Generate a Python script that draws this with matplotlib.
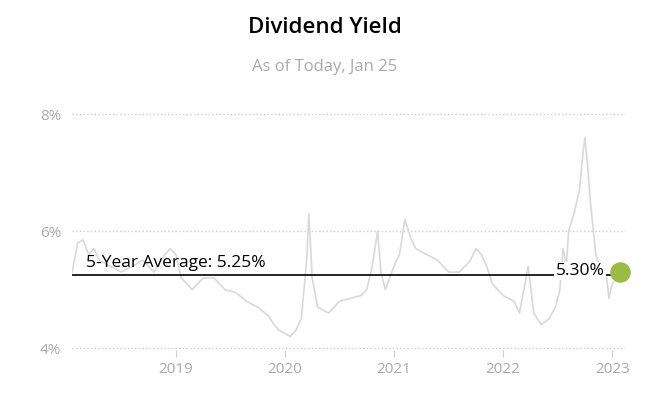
import matplotlib.pyplot as plt

dates = [2018.05, 2018.1, 2018.15, 2018.2, 2018.25, 2018.3, 2018.4, 2018.5, 2018.6, 2018.7,
         2018.8, 2018.9, 2018.95, 2019.0, 2019.05, 2019.15, 2019.25, 2019.35, 2019.45, 2019.55,
         2019.65, 2019.75, 2019.85, 2019.9, 2019.95, 2020.0, 2020.05, 2020.1, 2020.15, 2020.2,
         2020.22, 2020.25, 2020.3, 2020.4, 2020.5, 2020.6, 2020.7, 2020.75, 2020.8, 2020.85,
         2020.88, 2020.92, 2021.0, 2021.05, 2021.1, 2021.15, 2021.2, 2021.3, 2021.4, 2021.5,
         2021.6, 2021.7, 2021.75, 2021.8, 2021.85, 2021.9, 2022.0, 2022.1, 2022.15, 2022.2,
         2022.23, 2022.28, 2022.35, 2022.42, 2022.48, 2022.52, 2022.55, 2022.58, 2022.6, 2022.65,
         2022.7, 2022.73, 2022.75, 2022.78, 2022.8, 2022.85, 2022.9, 2022.95, 2022.97, 2023.0,
         2023.05, 2023.07]
yields = [5.3, 5.8, 5.85, 5.6, 5.7, 5.5, 5.4, 5.3, 5.4, 5.5,
          5.3, 5.6, 5.7, 5.6, 5.2, 5.0, 5.2, 5.2, 5.0, 4.95,
          4.8, 4.7, 4.55, 4.4, 4.3, 4.25, 4.2, 4.3, 4.5, 5.5,
          6.3, 5.2, 4.7, 4.6, 4.8, 4.85, 4.9, 5.0, 5.4, 6.0,
          5.3, 5.0, 5.4, 5.6, 6.2, 5.9, 5.7, 5.6, 5.5, 5.3,
          5.3, 5.5, 5.7, 5.6, 5.4, 5.1, 4.9, 4.8, 4.6, 5.1,
          5.4, 4.6, 4.4, 4.5, 4.7, 5.0, 5.7, 5.4, 6.0, 6.3,
          6.7, 7.3, 7.6, 7.0, 6.5, 5.6, 5.3, 5.2, 4.85, 5.1,
          5.2, 5.3]
avg = 5.25
current = 5.30
years = [2019, 2020, 2021, 2022, 2023]
yticks = [4, 6, 8]

fig = plt.figure(figsize=(6.5, 4.2), dpi=100)
plt.rcParams['font.family'] = ['Open Sans', 'DejaVu Sans']
ax = fig.add_axes([0.111, 0.167, 0.851, 0.571])

ax.plot(dates, yields, color='#d9d9d9', lw=1.2)
ax.plot([dates[0], dates[-1]], [avg, avg], color='black', lw=1.2)
ax.scatter([dates[-1]], [current], s=190, color='#9bbb45', zorder=5, clip_on=False)
ax.text(2018.18, avg + 0.07, '5-Year Average: 5.25%', fontsize=12.5, va='bottom',
        fontweight='medium')
ax.text(dates[-1] - 0.14, current + 0.02, '5.30%', fontsize=12.5, ha='right', va='center',
        fontweight='medium', bbox=dict(facecolor='white', edgecolor='none', pad=1))

ax.set_xlim(2018.05, 2023.12)
ax.set_ylim(3.97, 8.07)
ax.set_yticks(yticks)
ax.set_yticklabels([f'{v}%' for v in yticks])
ax.set_xticks(years)
ax.set_xticklabels([str(y) for y in years])
ax.grid(axis='y', color='#cccccc', ls=':', lw=1)
for s in ax.spines.values():
    s.set_visible(False)
ax.tick_params(axis='y', length=0, labelsize=11, labelcolor='#aaaaaa', pad=8)
ax.tick_params(axis='x', length=5, color='#cccccc', labelsize=11, labelcolor='#aaaaaa')

fig.text(0.5, 0.935, 'Dividend Yield', ha='center', va='center', fontsize=16,
         fontweight='semibold')
fig.text(0.5, 0.84, 'As of Today, Jan 25', ha='center', va='center', fontsize=12, color='#aaaaaa')

fig.savefig('out.png', dpi=100)
